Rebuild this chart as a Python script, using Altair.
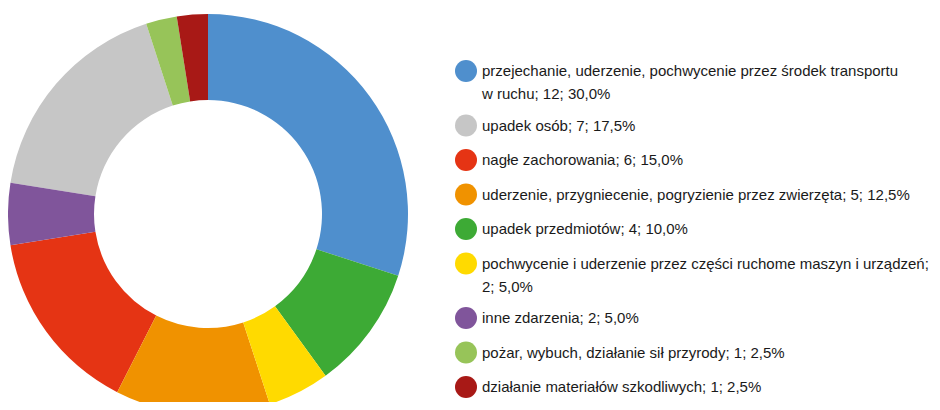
import altair as alt
import pandas as pd

# Legend order
labels = [
    "przejechanie, uderzenie, pochwycenie przez środek transportu\nw ruchu; 12; 30,0%",
    "upadek osób; 7; 17,5%",
    "nagłe zachorowania; 6; 15,0%",
    "uderzenie, przygniecenie, pogryzienie przez zwierzęta; 5; 12,5%",
    "upadek przedmiotów; 4; 10,0%",
    "pochwycenie i uderzenie przez części ruchome maszyn i urządzeń;\n2; 5,0%",
    "inne zdarzenia; 2; 5,0%",
    "pożar, wybuch, działanie sił przyrody; 1; 2,5%",
    "działanie materiałów szkodliwych; 1; 2,5%",
]
counts = [12, 7, 6, 5, 4, 2, 2, 1, 1]
colors = ["#4F8FCD", "#C6C6C6", "#E53414", "#F09200", "#3DAA35",
          "#FFDA00", "#80559B", "#97C459", "#A81916"]
# clockwise position of each slice starting at 12 o'clock
arc_order = [1, 7, 5, 4, 2, 3, 6, 8, 9]

df = pd.DataFrame({"label": labels, "count": counts, "arc": arc_order})

chart = alt.Chart(df).mark_arc(radius=200, radius2=114, x=200, y=206).encode(
    theta=alt.Theta("count:Q", stack=True),
    order=alt.Order("arc:Q"),
    color=alt.Color(
        "label:N",
        scale=alt.Scale(domain=labels, range=colors),
        legend=alt.Legend(
            title=None,
            orient="none",
            legendX=447,
            legendY=52,
            symbolType="circle",
            symbolSize=484,
            symbolStrokeWidth=0,
            symbolOpacity=1,
            labelFont="Liberation Sans",
            labelFontSize=15,
            labelColor="#1a1a1a",
            labelLimit=0,
            labelOffset=5,
            rowPadding=12.5,
            padding=0,
            labelExpr="split(datum.label, '\\n')",
        ),
    ),
).properties(
    width=924, height=394, padding=0, autosize="none"
).configure(
    style={"guide-label": {"lineHeight": 23}},
    view={"stroke": "transparent"},
)

chart.save("out.html", embed_options={"renderer": "svg", "actions": False})
